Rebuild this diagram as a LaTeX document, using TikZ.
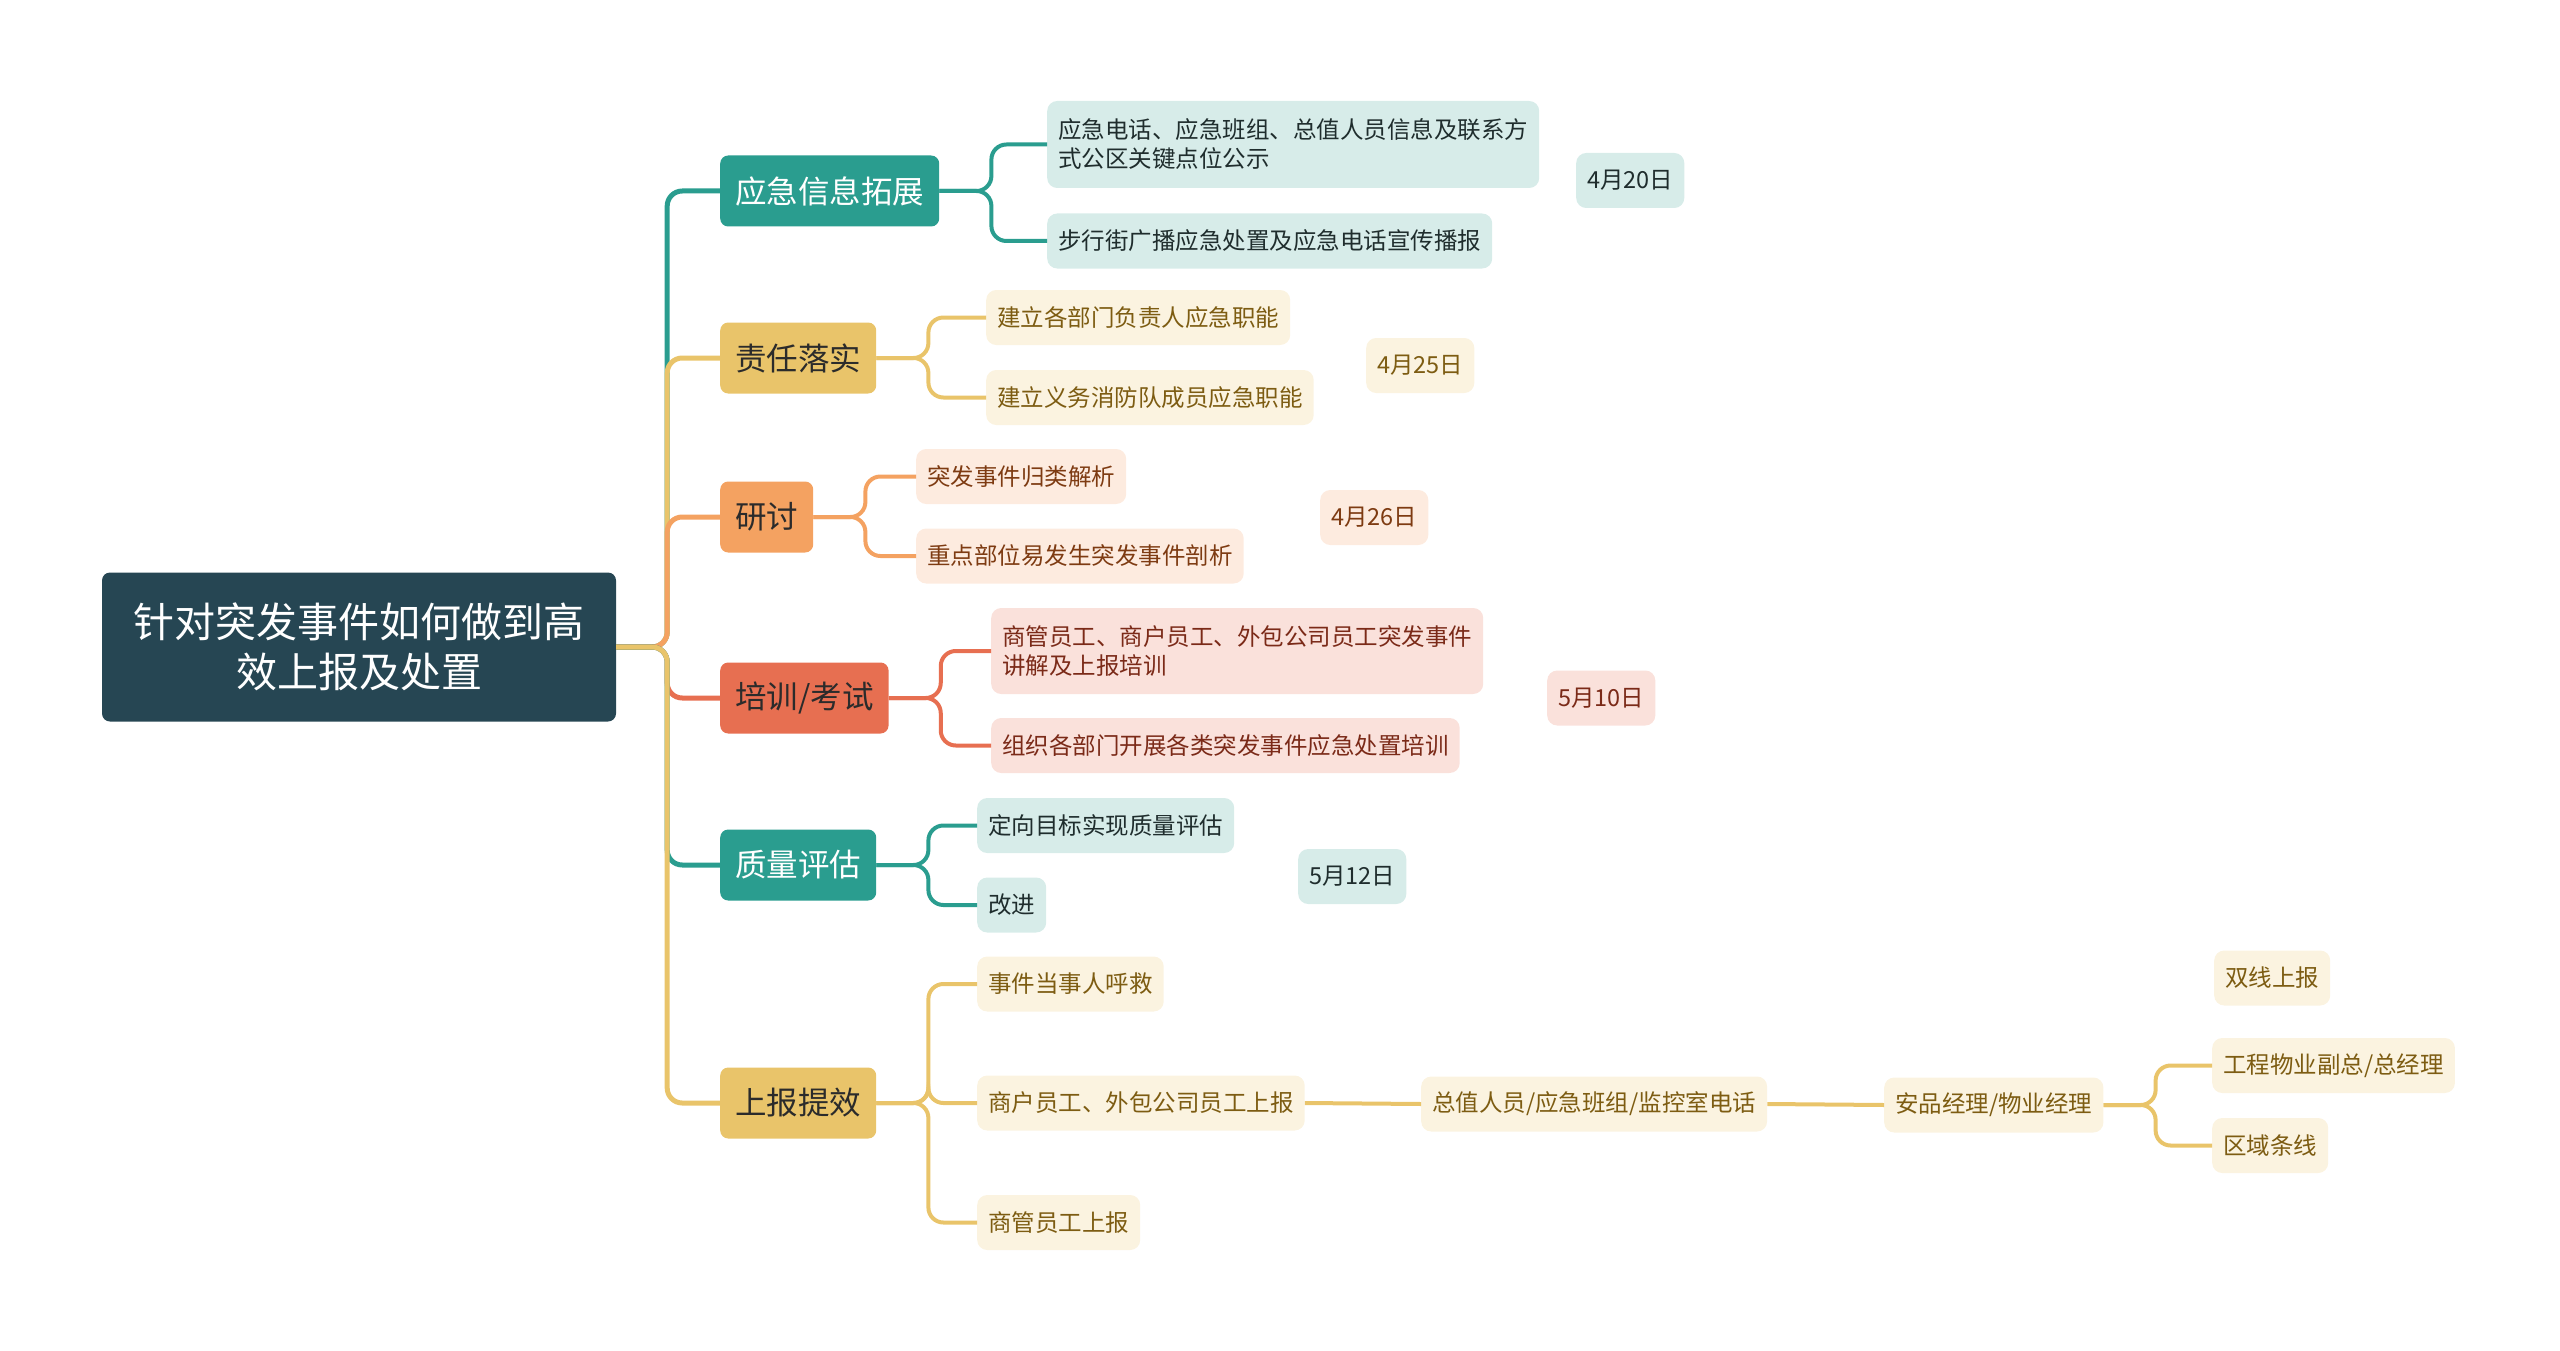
\documentclass[tikz,border=0pt]{standalone}
\usepackage{fontspec}
\setmainfont{Noto Sans CJK SC}
\usetikzlibrary{positioning,calc}
\definecolor{radicebg}{HTML}{264653}
\definecolor{verde}{HTML}{2A9D8F}
\definecolor{verdechiaro}{HTML}{D7ECE9}
\definecolor{testoverde}{HTML}{1F2D2D}
\definecolor{giallo}{HTML}{E9C46A}
\definecolor{giallochiaro}{HTML}{FBF3E0}
\definecolor{testogiallo}{HTML}{7D5C12}
\definecolor{arancio}{HTML}{F4A261}
\definecolor{aranciochiaro}{HTML}{FDEBDF}
\definecolor{testoarancio}{HTML}{7E3B12}
\definecolor{rosso}{HTML}{E76F51}
\definecolor{rossochiaro}{HTML}{FAE1DB}
\definecolor{testorosso}{HTML}{7B2A18}
\definecolor{testoscuro}{HTML}{2B2B2B}
\tikzset{
    % Stile per la radice
    radice/.style={fill=radicebg, text=white, rounded corners=8pt, align=center,
                   font=\fontsize{41}{50}\selectfont,
                   minimum width=514pt, minimum height=149pt, inner sep=0pt},
    % Stile per i rami principali
    ramo/.style={rounded corners=8pt, anchor=west, text=testoscuro,
                 minimum height=71pt, inner xsep=15pt, inner ysep=0pt,
                 font=\fontsize{31.5}{36}\selectfont},
    % Stile per le foglie
    foglia/.style={rounded corners=10pt, anchor=west, align=left,
                   minimum height=55pt, inner xsep=11pt, inner ysep=0pt,
                   font=\fontsize{23.5}{29}\selectfont},
    fverde/.style={foglia, fill=verdechiaro, text=testoverde},
    fgiallo/.style={foglia, fill=giallochiaro, text=testogiallo},
    farancio/.style={foglia, fill=aranciochiaro, text=testoarancio},
    frosso/.style={foglia, fill=rossochiaro, text=testorosso},
    % Stile per i collegamenti
    tronco/.style={line width=5pt, rounded corners=15pt},
    ramino/.style={line width=4pt, rounded corners=15pt}
}
\begin{document}
\begin{tikzpicture}[x=1pt,y=-1pt]
\useasboundingbox (0,0) rectangle (2560,1351);
\node[radice] (root) at (359,647) {针对突发事件如何做到高\\效上报及处置};

% rami principali
\node[ramo, fill=verde, text=white] (info) at (720,191) {应急信息拓展};
\node[ramo, fill=giallo] (resp) at (720,358) {责任落实};
\node[ramo, fill=arancio] (disc) at (720,517) {研讨};
\node[ramo, fill=rosso] (form) at (720,698) {培训/考试};
\node[ramo, fill=verde, text=white] (qual) at (720,865) {质量评估};
\node[ramo, fill=giallo] (rep) at (720,1103) {上报提效};

% foglie
\node[fverde, minimum height=87pt] (info1) at (1047,144.5) {应急电话、应急班组、总值人员信息及联系方\\式公区关键点位公示};
\node[fverde] (info2) at (1047,241) {步行街广播应急处置及应急电话宣传播报};
\node[fverde] (dinfo) at (1576,180.5) {4月20日};
\node[fgiallo] (resp1) at (986,317.5) {建立各部门负责人应急职能};
\node[fgiallo] (resp2) at (986,397.5) {建立义务消防队成员应急职能};
\node[fgiallo] (dresp) at (1366,365.5) {4月25日};
\node[farancio] (disc1) at (916,476.5) {突发事件归类解析};
\node[farancio] (disc2) at (916,556) {重点部位易发生突发事件剖析};
\node[farancio] (ddisc) at (1320,517.5) {4月26日};
\node[frosso, minimum height=86pt] (form1) at (991,651) {商管员工、商户员工、外包公司员工突发事件\\讲解及上报培训};
\node[frosso] (form2) at (991,745.5) {组织各部门开展各类突发事件应急处置培训};
\node[frosso] (dform) at (1547,698) {5月10日};
\node[fverde] (qual1) at (977,825.5) {定向目标实现质量评估};
\node[fverde] (qual2) at (977,905) {改进};
\node[fverde] (dqual) at (1298,876.5) {5月12日};
\node[fgiallo] (rep1) at (977,984) {事件当事人呼救};
\node[fgiallo] (rep2) at (977,1103) {商户员工、外包公司员工上报};
\node[fgiallo] (rep3) at (977,1222.5) {商管员工上报};
\node[fgiallo] (duty) at (1421,1104) {总值人员/应急班组/监控室电话};
\node[fgiallo] (mgr) at (1884,1105) {安品经理/物业经理};
\node[fgiallo] (dual) at (2214,978) {双线上报};
\node[fgiallo] (eng) at (2212,1065.5) {工程物业副总/总经理};
\node[fgiallo] (area) at (2212,1145.5) {区域条线};

% collegamenti
\foreach \b/\c in {info/verde, resp/giallo, disc/arancio, form/rosso, qual/verde, rep/giallo}
    \draw[tronco, \c] (root.east) -- ++(51,0) |- (\b.west);
\foreach \f in {info1, info2}
    \draw[ramino, verde] (info.east) -- ++(52,0) |- (\f.west);
\foreach \f in {resp1, resp2}
    \draw[ramino, giallo] (resp.east) -- ++(52,0) |- (\f.west);
\foreach \f in {disc1, disc2}
    \draw[ramino, arancio] (disc.east) -- ++(52,0) |- (\f.west);
\foreach \f in {form1, form2}
    \draw[ramino, rosso] (form.east) -- ++(52,0) |- (\f.west);
\foreach \f in {qual1, qual2}
    \draw[ramino, verde] (qual.east) -- ++(52,0) |- (\f.west);
\foreach \f in {rep1, rep2, rep3}
    \draw[ramino, giallo] (rep.east) -- ++(52,0) |- (\f.west);
\draw[ramino, giallo] (rep2.east) -- (duty.west);
\draw[ramino, giallo] (duty.east) -- (mgr.west);
\foreach \f in {eng, area}
    \draw[ramino, giallo] (mgr.east) -- ++(52,0) |- (\f.west);
\end{tikzpicture}
\end{document}
